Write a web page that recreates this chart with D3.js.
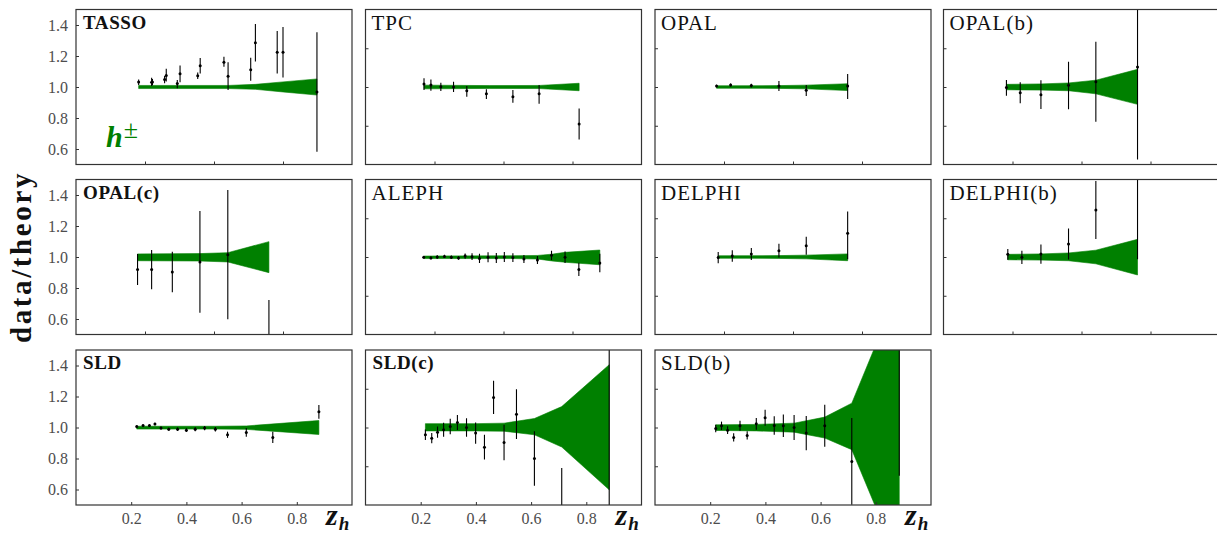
<!DOCTYPE html>
<html><head><meta charset="utf-8">
<script src="https://cdn.jsdelivr.net/npm/d3@7/dist/d3.min.js"></script>
<style>
html,body{margin:0;padding:0;background:#fff;}
svg{display:block;font-family:"Liberation Serif","DejaVu Serif",serif;}
</style></head>
<body><svg id="c" width="1217" height="536"></svg>
<script>
// ---- data: [z, value, errDown, errUp?] ; bands: [z, lo, hi]
const titles = ["TASSO","TPC","OPAL","OPAL(b)","OPAL(c)","ALEPH","DELPHI","DELPHI(b)","SLD","SLD(c)","SLD(b)"];
const titleBold = [true,false,false,false,true,false,false,false,true,true,false];

const tassoData = [[0.227,1.032,0.019,0.017],[0.274,1.030,0.024,0.030],[0.277,1.032,0.020],[0.321,1.048,0.023],[0.327,1.075,0.040,0.043],[0.367,1.022,0.030,0.023],[0.377,1.085,0.054],[0.441,1.072,0.021],[0.450,1.137,0.050],[0.536,1.160,0.030,0.035],[0.551,1.070,0.089],[0.633,1.112,0.072,0.077],[0.650,1.286,0.121],[0.729,1.224,0.137],[0.750,1.224,0.163],[0.873,0.968,0.385]];
const tassoBand = [[0.227,0.990,1.010],[0.55,0.990,1.010],[0.65,0.985,1.017],[0.75,0.968,1.033],[0.873,0.948,1.052]];

const tpcData = [[0.212,1.019,0.038,0.037],[0.237,1.013,0.037,0.036],[0.273,1.002,0.028,0.026],[0.319,1.000,0.032,0.034],[0.367,0.976,0.039,0.030],[0.438,0.957,0.034,0.028],[0.534,0.937,0.038,0.044],[0.629,0.957,0.065,0.056],[0.774,0.761,0.099,0.101]];
const tpcBand = [[0.212,0.988,1.012],[0.45,0.991,1.009],[0.629,0.990,1.010],[0.774,0.976,1.024]];

const opalData = [[0.223,1.006,0.008],[0.274,1.013,0.009],[0.349,1.009,0.012],[0.449,1.006,0.032,0.033],[0.548,0.979,0.037,0.034],[0.698,1.006,0.083,0.078]];
const opalBand = [[0.223,0.992,1.008],[0.449,0.991,1.009],[0.548,0.988,1.012],[0.698,0.977,1.021]];

const opalbData = [[0.228,0.996,0.052,0.049],[0.278,0.963,0.068,0.067],[0.353,0.950,0.092,0.093],[0.453,1.011,0.155,0.152],[0.552,1.034,0.258],[0.703,1.129,0.596]];
const opalbBand = [[0.228,0.982,1.017],[0.353,0.980,1.020],[0.453,0.976,1.026],[0.552,0.956,1.044],[0.703,0.888,1.114]];

const opalcData = [[0.223,0.920,0.101,0.099],[0.274,0.920,0.128,0.125],[0.349,0.903,0.131,0.131],[0.449,0.968,0.327,0.329],[0.550,1.015,0.417],[0.699,0.300,0.423]];
const opalcBand = [[0.223,0.976,1.020],[0.449,0.974,1.022],[0.550,0.968,1.028],[0.699,0.899,1.099]];

const alephData = [[0.211,0.998,0.006],[0.237,0.994,0.009],[0.260,1.000,0.011],[0.286,1.004,0.011],[0.311,0.998,0.011],[0.337,0.994,0.011],[0.361,1.006,0.017],[0.386,1.002,0.022],[0.413,0.991,0.030],[0.444,0.998,0.032],[0.474,0.994,0.032],[0.503,1.000,0.032],[0.534,0.996,0.028],[0.574,0.987,0.026],[0.623,0.981,0.026],[0.674,1.011,0.030],[0.723,0.998,0.037],[0.773,0.920,0.043],[0.849,0.961,0.060]];
const alephBand = [[0.211,0.990,1.006],[0.534,0.990,1.008],[0.623,0.987,1.010],[0.674,0.975,1.018],[0.723,0.966,1.030],[0.849,0.950,1.045]];

const delphiData = [[0.229,0.996,0.037],[0.280,1.006,0.037],[0.349,1.019,0.039],[0.449,1.041,0.045],[0.548,1.073,0.058],[0.698,1.153,0.168,0.141]];
const delphiBand = [[0.229,0.992,1.008],[0.449,0.991,1.009],[0.548,0.988,1.012],[0.698,0.976,1.020]];

const delphibData = [[0.233,1.017,0.035],[0.284,0.998,0.043],[0.353,1.019,0.062],[0.453,1.084,0.100],[0.552,1.303,0.187],[0.703,1.600,0.615,0.600]];
const delphibBand = [[0.233,0.982,1.017],[0.353,0.980,1.020],[0.453,0.976,1.026],[0.552,0.956,1.044],[0.703,0.884,1.114]];

const sldData = [[0.220,1.007,0.006],[0.243,1.013,0.007],[0.266,1.013,0.007],[0.286,1.022,0.008],[0.308,0.996,0.009],[0.336,0.989,0.010],[0.368,0.989,0.011],[0.400,0.983,0.012],[0.432,0.989,0.013],[0.466,0.996,0.014],[0.505,0.989,0.015],[0.549,0.953,0.020],[0.617,0.968,0.028],[0.713,0.936,0.036],[0.880,1.101,0.044]];
const sldBand = [[0.220,0.990,1.008],[0.505,0.990,1.008],[0.617,0.988,1.010],[0.880,0.955,1.045]];

const sldcData = [[0.217,0.953,0.034],[0.240,0.931,0.033],[0.261,0.970,0.036],[0.283,0.985,0.045],[0.307,1.007,0.050],[0.333,1.032,0.048],[0.366,1.000,0.060],[0.399,0.964,0.069],[0.431,0.873,0.080],[0.464,1.194,0.107],[0.502,0.903,0.115],[0.547,1.086,0.160],[0.612,0.800,0.176],[0.711,0.350,0.388],[0.883,0.200,1.500]];
const sldcBand = [[0.217,0.978,1.025],[0.399,0.978,1.025],[0.502,0.976,1.028],[0.612,0.953,1.058],[0.711,0.874,1.135],[0.883,0.598,1.405]];

const sldbData = [[0.220,0.994,0.024],[0.241,1.011,0.027],[0.263,0.983,0.025],[0.285,0.936,0.027],[0.308,1.011,0.032],[0.334,0.949,0.027],[0.367,1.024,0.038],[0.399,1.063,0.052],[0.432,1.013,0.060],[0.465,1.011,0.073],[0.504,1.000,0.080],[0.548,0.964,0.110],[0.615,1.011,0.135],[0.713,0.781,0.280],[0.885,1.800,1.112]];
const sldbBand = [[0.220,0.981,1.017],[0.367,0.978,1.020],[0.504,0.970,1.028],[0.615,0.932,1.067],[0.713,0.857,1.157],[0.885,0.120,1.900]];

const panelData = [tassoData,tpcData,opalData,opalbData,opalcData,alephData,delphiData,delphibData,sldData,sldcData,sldbData];
const panelBand = [tassoBand,tpcBand,opalBand,opalbBand,opalcBand,alephBand,delphiBand,delphibBand,sldBand,sldcBand,sldbBand];

const yLabelTicks = [0.6,0.8,1.0,1.2,1.4];
const yInnerTicks = [0.75,1.0,1.25];
const xLabelTicks = [0.2,0.4,0.6,0.8];
const xInnerTicks = [0.25,0.5,0.75];

// ---- layout
const lefts = [76, 365.5, 655, 943.5];
const tops = [9.5, 179.5, 350];
const W = 276, H = 155;
const GREEN = "#008000";

const svg = d3.select("#c");
const defs = svg.append("defs");

panelData.forEach((data, i) => {
  const row = Math.floor(i/4), col = i%4;
  const x0 = lefts[col], y0 = tops[row];
  const x = d3.scaleLinear().domain([0,1]).range([0,W]);
  const y = d3.scaleLinear().domain([0.5,1.5]).range([H,0]);
  const g = svg.append("g").attr("transform",`translate(${x0},${y0})`);
  const cid = "clip"+i;
  defs.append("clipPath").attr("id",cid).append("rect").attr("x",0).attr("y",0).attr("width",W).attr("height",H);
  const inner = g.append("g").attr("clip-path",`url(#${cid})`);

  // band
  const area = d3.area().x(d=>x(d[0])).y0(d=>y(d[1])).y1(d=>y(d[2]));
  inner.append("path").datum(panelBand[i]).attr("d",area).attr("fill",GREEN).attr("stroke",GREEN).attr("stroke-width",0.6);

  // error bars
  inner.selectAll("line.err").data(data).enter().append("line")
    .attr("x1",d=>x(d[0])).attr("x2",d=>x(d[0]))
    .attr("y1",d=>y(d[1]-d[2])).attr("y2",d=>y(d[1]+(d.length>3?d[3]:d[2])))
    .attr("stroke","#000").attr("stroke-width",1.1);
  inner.selectAll("circle").data(data).enter().append("circle")
    .attr("cx",d=>x(d[0])).attr("cy",d=>y(d[1])).attr("r",1.5).attr("fill","#000");

  // axes
  const firstCol = col===0, bottomRow = row===2;
  const ax = d3.axisBottom(x).tickValues(bottomRow?xLabelTicks:xInnerTicks).tickSize(-3).tickPadding(8)
    .tickFormat(bottomRow?d3.format(".1f"):()=>"");
  const gx = g.append("g").attr("transform",`translate(0,${H})`).call(ax);
  const ay = d3.axisLeft(y).tickValues(firstCol?yLabelTicks:yInnerTicks).tickSize(-3).tickPadding(8)
    .tickFormat(firstCol?d3.format(".1f"):()=>"");
  const gy = g.append("g").call(ay);
  [gx,gy].forEach(a=>{
    a.select(".domain").remove();
    a.selectAll(".tick line").attr("stroke","#333").attr("stroke-width",1);
    a.selectAll(".tick text").attr("fill","#4d4d4d").style("font-size","16px").style("font-family","Liberation Serif, serif");
  });

  // frame
  g.append("rect").attr("x",0).attr("y",0).attr("width",W).attr("height",H)
    .attr("fill","none").attr("stroke","#333").attr("stroke-width",1.2);

  // title
  const b = titleBold[i];
  g.append("text").attr("x",b?7:6).attr("y",b?19:20)
    .style("font-size",b?"19px":"21px").style("font-weight",b?"bold":"normal")
    .style("letter-spacing",b?"0.6px":"1px")
    .attr("fill","#111").text(titles[i]);

  // z_h label
  if (bottomRow) {
    const t = g.append("text").attr("x",W-26).attr("y",H+20).attr("fill","#111")
      .style("font-weight","bold").style("font-style","italic");
    t.append("tspan").style("font-size","30px").text("z");
    t.append("tspan").style("font-size","19px").attr("dy",5).attr("dx",1).text("h");
  }
});

// h± label
const hl = svg.append("text").attr("x",106).attr("y",147).attr("fill",GREEN)
  .style("font-weight","bold").style("font-style","italic");
hl.append("tspan").style("font-size","30px").text("h");
hl.append("tspan").style("font-size","26px").style("font-style","normal").style("font-weight","normal").attr("dy",-9).attr("dx",1).text("±");

// y axis title
svg.append("text").attr("transform","translate(31,257) rotate(-90)").attr("text-anchor","middle")
  .style("font-size","29px").style("font-weight","bold").style("letter-spacing","2.6px").attr("fill","#111").text("data/theory");
</script></body></html>
